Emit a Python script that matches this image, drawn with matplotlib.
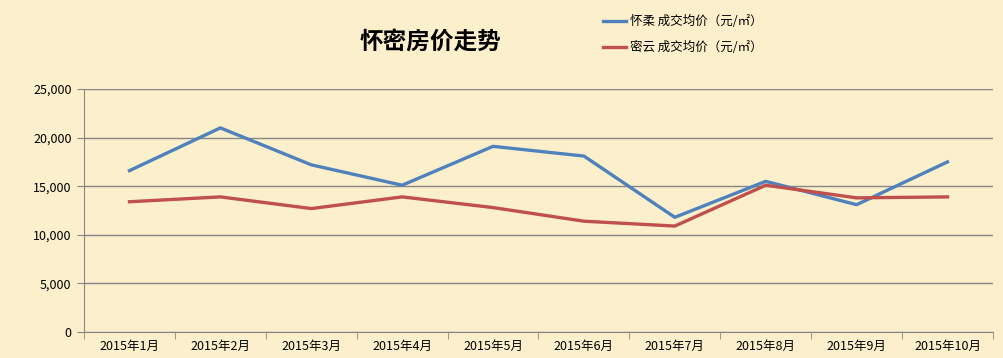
import matplotlib
matplotlib.use("Agg")
import matplotlib.pyplot as plt
from matplotlib.ticker import FuncFormatter, FixedLocator
import numpy as np

plt.rcParams['font.family'] = ['Noto Sans CJK SC', 'DejaVu Sans']

months = ["2015年1月", "2015年2月", "2015年3月", "2015年4月", "2015年5月",
          "2015年6月", "2015年7月", "2015年8月", "2015年9月", "2015年10月"]
huairou = [16600, 21000, 17200, 15100, 19100, 18100, 11800, 15500, 13100, 17500]
miyun = [13400, 13900, 12700, 13900, 12800, 11400, 10900, 15100, 13800, 13900]

bg = "#FCF0CC"
fig = plt.figure(figsize=(10.04, 3.58), dpi=100, facecolor=bg)
ax = fig.add_axes([0.0837, 0.0726, 0.9053, 0.6788], facecolor=bg)

x = np.arange(len(months))
ax.plot(x, huairou, color="#4F81BD", lw=2.4, label="怀柔 成交均价（元/㎡）")
ax.plot(x, miyun, color="#C0504D", lw=2.4, label="密云 成交均价（元/㎡）")

ax.set_xlim(-0.5, len(months) - 0.5)
ax.set_ylim(0, 25000)
ax.set_yticks(np.arange(0, 25001, 5000))
ax.yaxis.set_major_formatter(FuncFormatter(lambda v, p: f"{int(v):,}"))
ax.grid(axis="y", color="#868686", lw=1)
ax.set_axisbelow(True)

ax.set_xticks(x)
ax.set_xticklabels(months)
ax.xaxis.set_minor_locator(FixedLocator(np.arange(-0.5, len(months), 1)))
ax.tick_params(axis="x", which="major", length=0, labelsize=9, pad=6)
ax.tick_params(axis="x", which="minor", length=5, color="#868686")
ax.tick_params(axis="y", length=5, color="#868686", labelsize=9, pad=4)

for s in ["top", "right"]:
    ax.spines[s].set_visible(False)
for s in ["left", "bottom"]:
    ax.spines[s].set_color("#868686")

fig.text(0.429, 0.882, "怀密房价走势", fontsize=17, fontweight="bold",
         ha="center", va="center")
fig.legend(loc="upper left", bbox_to_anchor=(0.589, 0.99), frameon=False,
           fontsize=9, handlelength=1.9, handletextpad=0.3, labelspacing=1.05)

fig.savefig("out.png", dpi=100, facecolor=bg)
